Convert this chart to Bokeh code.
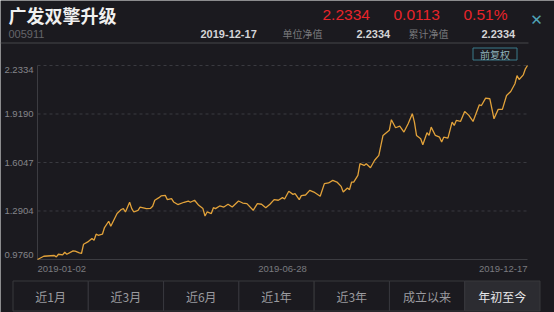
from bokeh.plotting import figure
from bokeh.models import Range1d
from bokeh.core.properties import value
from bokeh.embed import file_html
from bokeh.resources import INLINE

# ---------------- data ----------------
fund_name = "广发双擎升级"
fund_code = "005911"
nav_date = "2019-12-17"
last_nav = "2.2334"
day_change = "0.0113"
day_change_pct = "0.51%"
unit_nav_label = "单位净值"
acc_nav_label = "累计净值"
unit_nav = "2.2334"
acc_nav = "2.2334"
adjust_label = "前复权"
period_buttons = ["近1月", "近3月", "近6月", "近1年", "近3年", "成立以来", "年初至今"]
selected_button = 6

# trading-day index (0 = 2019-01-02, 234 = 2019-12-17) and unit NAV
trade_day = [0, 3, 8, 9, 10, 12, 13, 14, 17, 18,
             20, 21, 22, 24, 26, 27, 28, 29, 31, 32,
             34, 35, 36, 38, 40, 41, 42, 44, 45, 46,
             48, 49, 52, 54, 55, 56, 58, 59, 61, 62,
             64, 65, 67, 70, 72, 73, 75, 77, 79, 80,
             81, 83, 84, 85, 87, 89, 91, 93, 96, 98,
             100, 103, 105, 107, 109, 111, 113, 115, 117, 118,
             120, 122, 123, 125, 126, 128, 130, 132, 135, 137,
             139, 141, 143, 145, 146, 148, 149, 150, 151, 153,
             154, 156, 157, 159, 161, 163, 164, 165, 167, 168,
             169, 171, 173, 175, 177, 179, 180, 181, 183, 184,
             186, 187, 188, 190, 192, 193, 194, 196, 198, 199,
             200, 202, 204, 206, 208, 211, 212, 214, 216, 218,
             220, 222, 224, 226, 228, 229, 230, 232, 233, 234]
nav = [0.976, 0.997, 1.002, 0.993, 1.010, 1.006, 1.023, 1.010, 1.032, 1.030,
       1.019, 1.015, 1.075, 1.090, 1.112, 1.101, 1.140, 1.133, 1.140, 1.183,
       1.224, 1.191, 1.219, 1.274, 1.300, 1.306, 1.284, 1.347, 1.306, 1.284,
       1.295, 1.316, 1.306, 1.308, 1.321, 1.360, 1.377, 1.388, 1.392, 1.364,
       1.371, 1.349, 1.332, 1.347, 1.355, 1.347, 1.360, 1.327, 1.306, 1.258,
       1.284, 1.274, 1.312, 1.306, 1.323, 1.316, 1.334, 1.316, 1.355, 1.342,
       1.338, 1.295, 1.338, 1.334, 1.312, 1.334, 1.364, 1.360, 1.377, 1.368,
       1.418, 1.398, 1.403, 1.364, 1.390, 1.394, 1.424, 1.413, 1.386, 1.468,
       1.472, 1.489, 1.478, 1.450, 1.413, 1.439, 1.429, 1.478, 1.478, 1.521,
       1.597, 1.586, 1.597, 1.571, 1.619, 1.651, 1.716, 1.780, 1.802, 1.813,
       1.882, 1.830, 1.840, 1.802, 1.856, 1.921, 1.866, 1.780, 1.759, 1.720,
       1.798, 1.780, 1.834, 1.780, 1.769, 1.737, 1.769, 1.763, 1.866, 1.845,
       1.877, 1.871, 1.936, 1.910, 1.871, 1.979, 1.974, 2.022, 2.018, 1.888,
       1.949, 1.949, 2.039, 2.065, 2.115, 2.168, 2.143, 2.173, 2.212, 2.2334]

y_ticks = [0.9760, 1.2904, 1.6047, 1.9190, 2.2334]
y_tick_labels = ["0.9760", "1.2904", "1.6047", "1.9190", "2.2334"]
x_tick_pos = [0, 117, 234]
x_tick_labels = ["2019-01-02", "2019-06-28", "2019-12-17"]

# ---------------- style / layout constants (pixels) ----------------
BG = "#1b1a1f"
CJK = value("Noto Sans CJK SC")
LAT = value("Liberation Sans")
W, H = 554, 312
PLOT_L, PLOT_R, PLOT_T, PLOT_B = 37, 527, 65, 259

p = figure(width=W, height=H, x_range=Range1d(0, W), y_range=Range1d(H, 0),
           output_backend="svg", toolbar_location=None,
           min_border=0, min_border_left=0, min_border_right=0,
           min_border_top=0, min_border_bottom=0)
p.axis.visible = False
p.grid.visible = False
p.outline_line_color = None
p.background_fill_color = BG
p.border_fill_color = BG

# chart ranges: data mapped onto the plot rectangle through Bokeh's scales
x0, x1 = 0, trade_day[-1]
y0, y1 = y_ticks[0], y_ticks[-1]
kx = (x1 - x0) / (PLOT_R - PLOT_L)
ky = (y1 - y0) / (PLOT_B - PLOT_T)
p.extra_x_ranges = {"day": Range1d(x0 - PLOT_L * kx, x1 + (W - PLOT_R) * kx)}
p.extra_y_ranges = {"nav": Range1d(y0 - (H - PLOT_B) * ky, y1 + PLOT_T * ky)}
C = dict(x_range_name="day", y_range_name="nav")

# ---------------- header ----------------
p.text(x=[8], y=[14], text=[fund_name], text_font=CJK, text_font_size="18px",
       text_font_style="bold", text_color="#f0f0f0", text_baseline="middle",
       text_align="left")
p.text(x=[322, 393, 463], y=[14, 14, 14], text=[last_nav, day_change, day_change_pct],
       text_font=LAT, text_font_size="15.5px", text_color="#e8242a",
       text_baseline="middle", text_align="left")
p.text(x=[8], y=[33], text=[fund_code], text_font=LAT, text_font_size="11px",
       text_color="#65656a", text_baseline="middle")
p.text(x=[200, 356, 481], y=[33, 33, 33], text=[nav_date, unit_nav, acc_nav],
       text_font=LAT, text_font_size="11px", text_font_style="bold",
       text_color="#d4d4d6", text_baseline="middle")
p.text(x=[282, 408], y=[33, 33], text=[unit_nav_label, acc_nav_label],
       text_font=CJK, text_font_size="10px", text_color="#77777b",
       text_baseline="middle")
p.segment(x0=[0], y0=[42.5], x1=[528], y1=[42.5], line_color="#46464b", line_width=1)
p.text(x=[536], y=[19], text=["✕"], text_font=value("DejaVu Sans"),
       text_font_size="15px", text_color="#4fa3b6", text_align="center",
       text_baseline="middle")
p.quad(left=[472.5], right=[516.5], top=[47.5], bottom=[59.5], fill_color=None,
       line_color="#3b7b8b", line_width=1)
p.text(x=[494.5], y=[53.5], text=[adjust_label], text_font=CJK, text_font_size="10px",
       text_color="#8fb2bc", text_align="center", text_baseline="middle")

# ---------------- chart ----------------
grid_y = y_ticks[1:]
p.segment(x0=[x0] * len(grid_y), y0=grid_y, x1=[x1] * len(grid_y), y1=grid_y,
          line_color="#3a3a40", line_width=1, line_dash="3 3", **C)
p.segment(x0=[x0, x0], y0=[y0, y0], x1=[x1, x0], y1=[y0, y1],
          line_color="#3c3c41", line_width=1, **C)
p.line(trade_day, nav, line_color="#e2a23a", line_width=1.3, **C)

offs = [-5] + [0] * (len(y_ticks) - 2) + [4]
p.text(x=[x0] * len(y_ticks), y=y_ticks, text=y_tick_labels, x_offset=-4, y_offset=offs,
       text_align="right", text_baseline="middle", text_font=LAT,
       text_font_size="9.5px", text_color="#85858a", **C)
p.text(x=x_tick_pos, y=[y0] * len(x_tick_pos), text=x_tick_labels, y_offset=9,
       text_align=["left", "center", "right"], text_baseline="middle", text_font=LAT,
       text_font_size="9.5px", text_color="#7a7a7f", **C)

# ---------------- period buttons ----------------
n = len(period_buttons)
bx0, bx1 = 12.5, 539.5
bw = (bx1 - bx0) / n
lefts = [bx0 + i * bw for i in range(n)]
rights = [bx0 + (i + 1) * bw for i in range(n)]
fills = ["#2c2c31" if i == selected_button else BG for i in range(n)]
p.quad(left=lefts, right=rights, top=[280.5] * n, bottom=[310.5] * n,
       fill_color=fills, line_color="#38383d", line_width=1)
centers = [(l + r) / 2 for l, r in zip(lefts, rights)]
colors = ["#e8e8ea" if i == selected_button else "#9a9a9f" for i in range(n)]
p.text(x=centers, y=[295.5] * n, text=period_buttons, text_font=CJK,
       text_font_size="12px", text_color=colors, text_align="center",
       text_baseline="middle")

open("out.html", "w").write(file_html(p, INLINE))
